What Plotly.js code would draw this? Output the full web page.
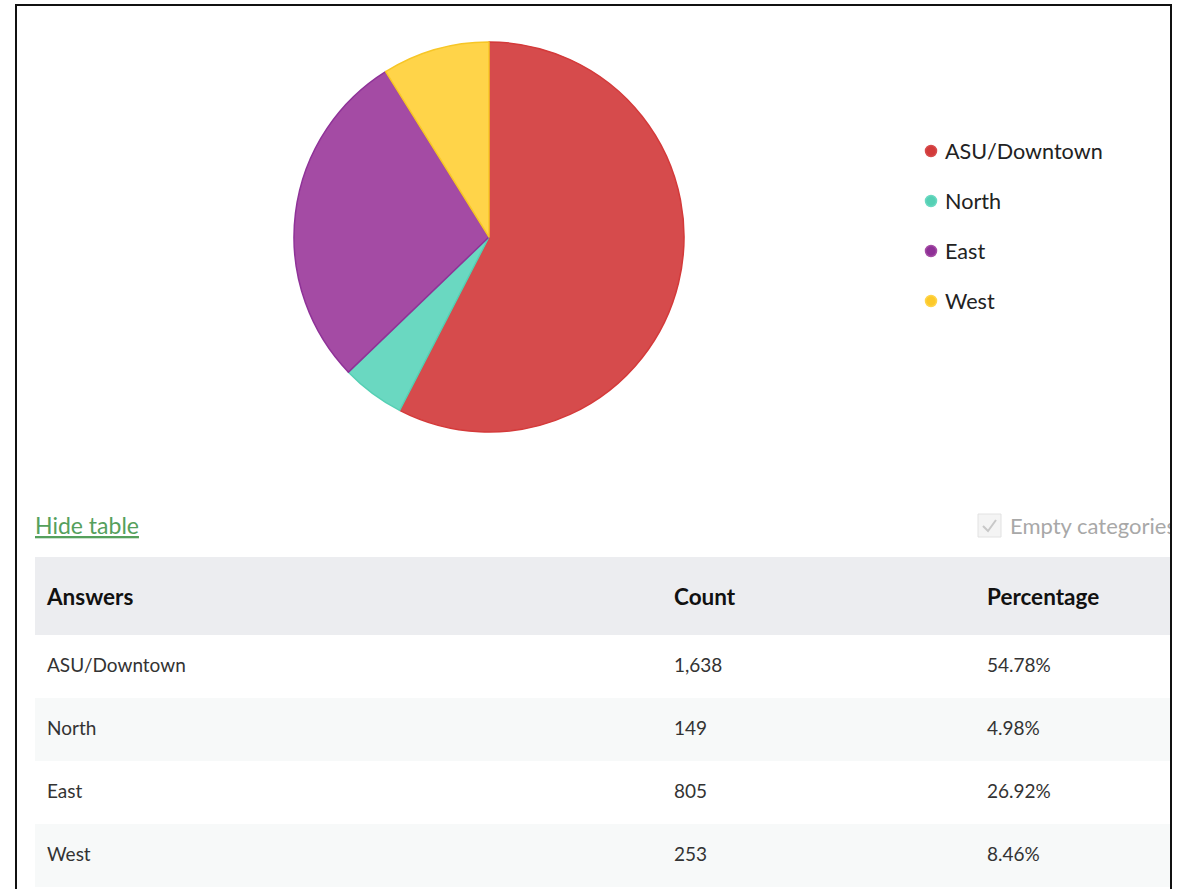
<!DOCTYPE html>
<html>
<head>
<meta charset="utf-8">
<script src="https://cdn.plot.ly/plotly-3.0.1.min.js"></script>
<style>
  html, body { margin: 0; padding: 0; background: #fff; overflow: hidden; }
  #wrap { position: relative; width: 1185px; height: 889px; overflow: hidden; }
  #plot { position: absolute; left: 0; top: 0; width: 1170px; height: 930px; }
  #frame { position: absolute; left: 15px; top: 4px; width: 1157px; height: 940px;
           box-sizing: border-box; border: 2px solid #111; border-bottom: none; pointer-events: none; }
</style>
</head>
<body>
<div id="wrap">
  <div id="plot"></div>
  <div id="frame"></div>
</div>
<script>
// ---- data ----
const categories = ["ASU/Downtown", "North", "East", "West"];
const counts = [1638, 149, 805, 253];
const percentages = ["54.78%", "4.98%", "26.92%", "8.46%"];
const headers = ["Answers", "Count", "Percentage"];
const fillColors = ["#d64b4c", "#6ad8c1", "#a44ba4", "#ffd449"];
const lineColors = ["#d43a3a", "#55d0b4", "#8f3298", "#f7c626"];
const dotColors = ["#d23a3a", "#55d0b4", "#8e3096", "#fcc92a"];

// ---- geometry helpers (pixel -> paper) ----
const W = 1170, H = 930;
const px = x => x / W;
const py = y => 1 - y / H;

const cx = 489, cy = 237, r = 195;
const FONT = "Lato, 'Open Sans', sans-serif";
const CLEAR = "rgba(0,0,0,0)";

const pie = {
  type: "pie",
  labels: categories,
  values: counts,
  sort: false,
  direction: "clockwise",
  rotation: 0,
  textinfo: "none",
  hoverinfo: "label+value+percent",
  showlegend: false,
  marker: { colors: fillColors, line: { color: lineColors, width: 1.5 } },
  domain: { x: [px(cx - r), px(cx + r)], y: [py(cy + r), py(cy - r)] }
};

const rowFills = categories.map((_, i) => i % 2 === 0 ? "#ffffff" : "#f7f9f9");
const countLabels = counts.map(v => v.toLocaleString("en-US"));

// table background (row fills)
const tableFill = {
  type: "table",
  domain: { x: [px(35), 1], y: [0, py(557)] },
  header: {
    values: [""], height: 78,
    fill: { color: "#ecedf0" }, line: { width: 0, color: "#ecedf0" }
  },
  cells: {
    values: [categories.map(() => "")], height: 63,
    fill: { color: [rowFills] }, line: { width: 0, color: CLEAR }
  },
  hoverinfo: "skip"
};

// table text (vertically centred inside the rows above)
const tableText = {
  type: "table",
  domain: { x: [px(39), 1], y: [0, py(575)] },
  columnwidth: [627, 313, 191],
  header: {
    values: headers.map(h => "<b>" + h + "</b>"),
    align: "left", height: 75,
    fill: { color: CLEAR }, line: { width: 0, color: CLEAR },
    font: { family: FONT, size: 22.5, color: "#111" }
  },
  cells: {
    values: [categories, countLabels, percentages],
    align: "left", height: 63,
    fill: { color: CLEAR }, line: { width: 0, color: CLEAR },
    font: { family: FONT, size: 19, color: "#333" }
  }
};

const annotations = [];
const shapes = [];

// legend built from categories
categories.forEach((c, i) => {
  const y = 151 + i * 50;
  shapes.push({
    type: "circle", xref: "paper", yref: "paper",
    xsizemode: "pixel", ysizemode: "pixel",
    xanchor: px(931), yanchor: py(y),
    x0: -5.5, x1: 5.5, y0: -5.5, y1: 5.5,
    fillcolor: dotColors[i], line: { color: fillColors[i], width: 1.5 }
  });
  annotations.push({
    xref: "paper", yref: "paper", x: px(943), y: py(y),
    xanchor: "left", yanchor: "middle", showarrow: false,
    text: c, font: { family: FONT, size: 21.6, color: "#222" }
  });
});

// "Hide table" link
annotations.push({
  xref: "paper", yref: "paper", x: px(33), y: py(525),
  xanchor: "left", yanchor: "middle", showarrow: false,
  text: "<u>Hide table</u>", font: { family: FONT, size: 23, color: "#55a05c" }
});

// "Empty categories" checkbox
shapes.push({
  type: "rect", xref: "paper", yref: "paper",
  x0: px(978), x1: px(1001), y0: py(537), y1: py(514),
  fillcolor: "#f4f4f4", line: { color: "#e2e2e2", width: 1 }
});
shapes.push({
  type: "path", xref: "paper", yref: "paper",
  path: `M ${px(983)} ${py(526)} L ${px(988)} ${py(531)} L ${px(996)} ${py(520)}`,
  line: { color: "#c8c8c8", width: 2 }
});
annotations.push({
  xref: "paper", yref: "paper", x: px(1008), y: py(525),
  xanchor: "left", yanchor: "middle", showarrow: false,
  text: "Empty categories", font: { family: FONT, size: 22, color: "#a8a8a8" }
});

const layout = {
  width: W, height: H,
  margin: { l: 0, r: 0, t: 0, b: 0, pad: 0 },
  paper_bgcolor: "#ffffff",
  showlegend: false,
  annotations, shapes
};

Plotly.newPlot("plot", [pie, tableFill, tableText], layout, { displayModeBar: false });
</script>
</body>
</html>
